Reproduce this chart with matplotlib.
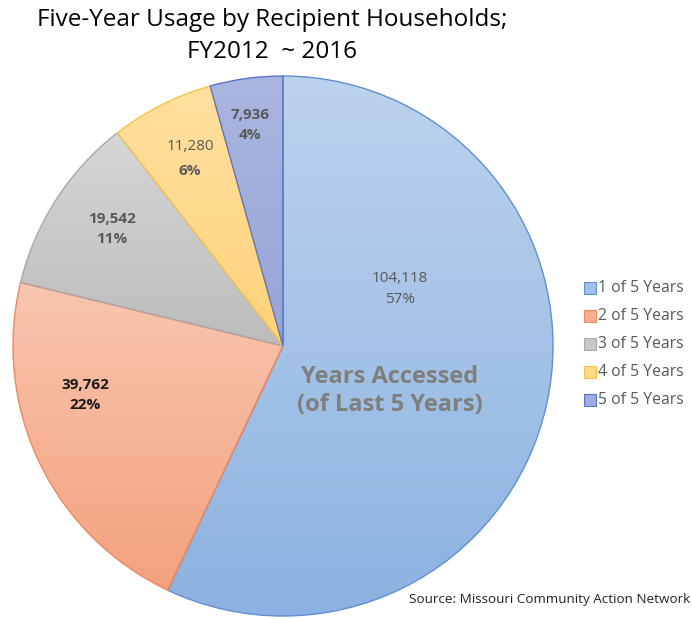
import matplotlib.pyplot as plt
import matplotlib.colors as mcolors
import numpy as np

# data
labels = ['1 of 5 Years', '2 of 5 Years', '3 of 5 Years', '4 of 5 Years', '5 of 5 Years']
households = [104118, 39762, 19542, 11280, 7936]
percents = ['57%', '22%', '11%', '6%', '4%']

# top / bottom gradient colours and edge colours per slice
top_colors = ['#bcd3ed', '#f9c6b0', '#d6d6d6', '#ffe0a0', '#aab6e0']
bottom_colors = ['#8cb2e1', '#f3a17d', '#bcbcbc', '#ffd27a', '#97a4d6']
edge_colors = ['#5f8fd2', '#ef8a5e', '#a9a9a9', '#f7c548', '#5b73c8']
legend_colors = ['#a3c1e8', '#f5ae90', '#c8c8c8', '#ffd98a', '#a0acdc']

plt.rcParams['font.family'] = ['Open Sans', 'DejaVu Sans']

fig = plt.figure(figsize=(6.92, 6.19), dpi=100)
ax = fig.add_axes([0, 0, 1, 1])

cx, cy, r = 283, 619 - 346, 270
wedges, _ = ax.pie(households, startangle=90, counterclock=False,
                   center=(cx, cy), radius=r, frame=True,
                   wedgeprops=dict(linewidth=1.0))
ax.set_xlim(0, 692)
ax.set_ylim(0, 619)
ax.axis('off')

for w, c1, c2, ec in zip(wedges, top_colors, bottom_colors, edge_colors):
    w.set_facecolor('none')
    w.set_edgecolor(ec)
    w.set_zorder(3)
    # vertical gradient clipped to the wedge
    verts = w.get_path().vertices
    x0, x1 = verts[:, 0].min(), verts[:, 0].max()
    y0, y1 = verts[:, 1].min(), verts[:, 1].max()
    cmap = mcolors.LinearSegmentedColormap.from_list('g', [c2, c1])
    grad = np.linspace(0, 1, 256).reshape(-1, 1)
    im = ax.imshow(grad, cmap=cmap, extent=(x0, x1, y0, y1), origin='lower',
                   aspect='auto', zorder=2)
    im.set_clip_path(w)

# slice labels
ax.text(400, 619 - 289, '104,118\n57%', ha='center', va='center',
        fontsize=11, color='#595959', linespacing=1.6, zorder=5)
ax.text(85, 619 - 395, '39,762\n22%', ha='center', va='center',
        fontsize=11, color='#1a1a1a', fontweight='bold', linespacing=1.6, zorder=5)
ax.text(112, 619 - 229, '19,542\n11%', ha='center', va='center',
        fontsize=11, color='#595959', fontweight='bold', linespacing=1.6, zorder=5)
ax.text(190, 619 - 146, '11,280', ha='center', va='center',
        fontsize=11, color='#595959', zorder=5)
ax.text(190, 619 - 171, '6%', ha='center', va='center',
        fontsize=11, color='#595959', fontweight='bold', zorder=5)
ax.text(250, 619 - 125, '7,936\n4%', ha='center', va='center',
        fontsize=11, color='#595959', fontweight='bold', linespacing=1.6, zorder=5)

ax.text(390, 619 - 391, 'Years Accessed\n(of Last 5 Years)', ha='center', va='center',
        fontsize=17, color='#7f7f7f', fontweight='bold', linespacing=1.25, zorder=5)

# title
ax.text(272, 619 - 20, 'Five-Year Usage by Recipient Households;', ha='center',
        va='center', fontsize=17.5, color='#000000')
ax.text(272, 619 - 52, 'FY2012  ~ 2016', ha='center', va='center',
        fontsize=17.5, color='#000000')

# legend
for i, (lab, col) in enumerate(zip(labels, legend_colors)):
    y = 619 - (288 + 28 * i)
    ax.scatter([590], [y], marker='s', s=70, color=col,
               edgecolors=edge_colors[i], linewidths=0.8, zorder=5)
    ax.text(598, y, lab, ha='left', va='center', fontsize=11.3, color='#595959')

ax.text(690, 619 - 599, 'Source: Missouri Community Action Network', ha='right',
        va='center', fontsize=9.7, color='#222222')

fig.savefig('out.png', dpi=100)
